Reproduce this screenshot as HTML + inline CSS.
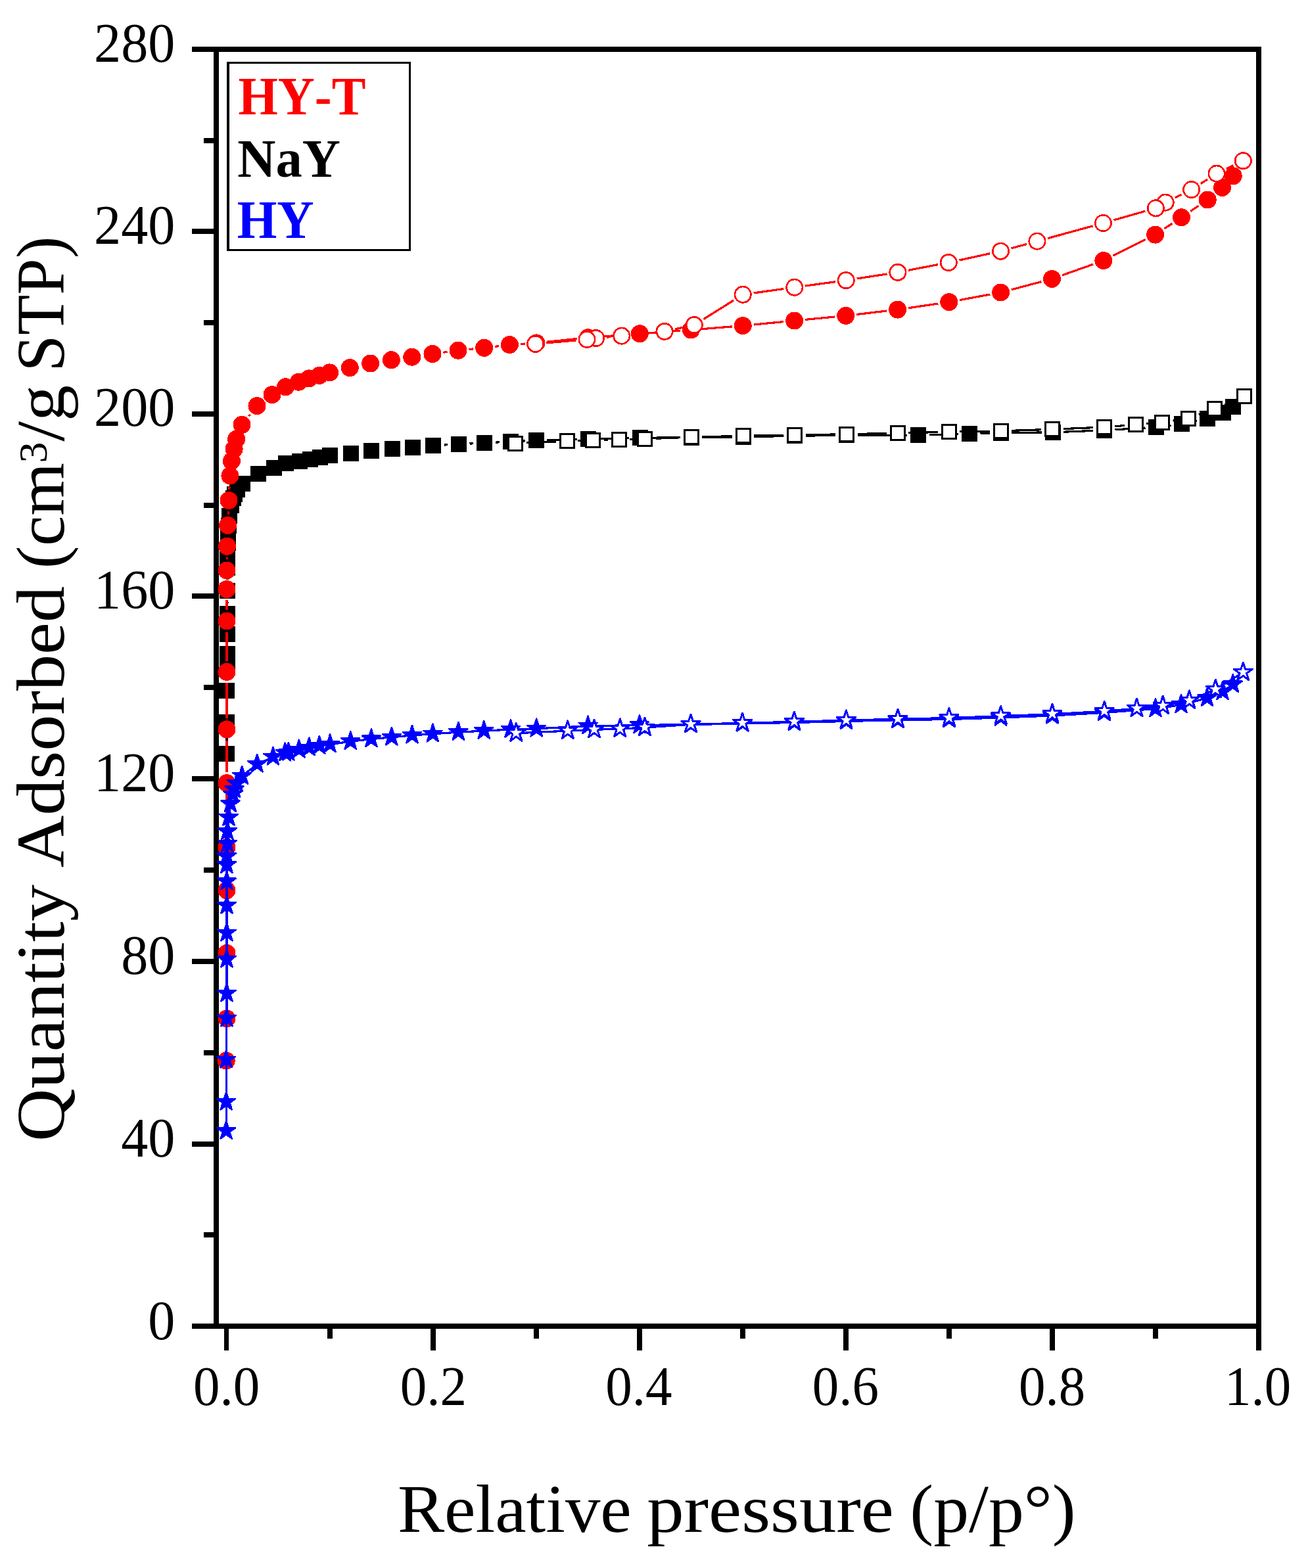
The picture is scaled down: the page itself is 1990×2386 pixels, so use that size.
<!DOCTYPE html>
<html lang="en"><head><meta charset="utf-8"><title>N2 adsorption-desorption isotherms</title>
<style>
html,body{margin:0;padding:0;background:#fff}
body{width:1990px;height:2386px;overflow:hidden;font-family:"Liberation Serif",serif}
svg{display:block}
</style></head><body>
<svg width="1990" height="2386" viewBox="0 0 1990 2386" role="img" aria-label="N2 adsorption-desorption isotherms"><rect width="1990" height="2386" fill="#fff"/><g fill="#000" shape-rendering="crispEdges"><rect x="325.0" y="71.0" width="1594.0" height="8"/><rect x="325.0" y="2014.0" width="1594.0" height="8"/><rect x="325.0" y="71.0" width="8" height="1951.0"/><rect x="1911.0" y="71.0" width="8" height="1951.0"/><rect x="292" y="2014" width="34" height="8"/><rect x="310" y="1875" width="16" height="8"/><rect x="292" y="1737" width="34" height="8"/><rect x="310" y="1598" width="16" height="8"/><rect x="292" y="1459" width="34" height="8"/><rect x="310" y="1320" width="16" height="8"/><rect x="292" y="1181" width="34" height="8"/><rect x="310" y="1042" width="16" height="8"/><rect x="292" y="903" width="34" height="8"/><rect x="310" y="765" width="16" height="8"/><rect x="292" y="626" width="34" height="8"/><rect x="310" y="487" width="16" height="8"/><rect x="292" y="348" width="34" height="8"/><rect x="310" y="210" width="16" height="8"/><rect x="292" y="71" width="34" height="8"/><rect x="341.00" y="2021" width="7" height="34"/><rect x="498.00" y="2021" width="8" height="16"/><rect x="655.00" y="2021" width="8" height="34"/><rect x="812.00" y="2021" width="8" height="16"/><rect x="969.00" y="2021" width="8" height="34"/><rect x="1126.00" y="2021" width="8" height="16"/><rect x="1283.00" y="2021" width="8" height="34"/><rect x="1440.00" y="2021" width="8" height="16"/><rect x="1597.00" y="2021" width="8" height="34"/><rect x="1754.00" y="2021" width="8" height="16"/><rect x="1911.00" y="2021" width="8" height="34"/></g><g id="series" shape-rendering="crispEdges"><path d="M344.9 1130.4L344.9 1115.7M344.9 1082.5L344.9 1067.5M345.4 1034.3L345.4 1031.5M345.9 917.5L345.9 915.6M345.9 882.4L345.9 880.3M675.6 677.0L681.3 676.8M714.5 675.1L720.4 674.8M753.6 673.2L760.0 672.8M793.2 671.2L799.2 670.8M832.4 669.6L878.1 668.4M911.3 667.6L957.3 666.7M990.5 666.2L1035.2 665.7M1068.4 665.4L1113.9 665.0M1147.1 664.5L1192.4 663.6M1225.6 663.1L1271.4 662.5M1304.6 662.3L1380.4 662.1M1413.6 661.7L1458.3 660.7M1491.5 659.8L1506.3 659.3M1539.5 658.6L1585.2 658.0M1618.4 657.2L1663.3 655.4M1696.5 653.8L1742.5 651.0M1775.6 647.9L1781.5 647.1M1814.3 641.7L1820.7 640.3" stroke="#000" stroke-width="3.2" fill="none" stroke-linecap="butt"/><g fill="#000"><rect x="332.9" y="1135.0" width="24" height="24"/><rect x="332.9" y="1087.1" width="24" height="24"/><rect x="332.9" y="1038.9" width="24" height="24"/><rect x="333.9" y="1002.9" width="24" height="24"/><rect x="333.9" y="983.1" width="24" height="24"/><rect x="333.9" y="952.9" width="24" height="24"/><rect x="333.9" y="922.1" width="24" height="24"/><rect x="333.9" y="887.0" width="24" height="24"/><rect x="333.9" y="851.7" width="24" height="24"/><rect x="333.9" y="839.0" width="24" height="24"/><rect x="334.0" y="827.0" width="24" height="24"/><rect x="334.9" y="814.0" width="24" height="24"/><rect x="334.9" y="801.7" width="24" height="24"/><rect x="336.0" y="787.8" width="24" height="24"/><rect x="336.9" y="772.6" width="24" height="24"/><rect x="340.0" y="756.9" width="24" height="24"/><rect x="342.9" y="745.8" width="24" height="24"/><rect x="344.9" y="739.8" width="24" height="24"/><rect x="348.9" y="732.8" width="24" height="24"/><rect x="356.9" y="723.7" width="24" height="24"/><rect x="380.9" y="708.8" width="24" height="24"/><rect x="405.0" y="699.9" width="24" height="24"/><rect x="423.0" y="693.0" width="24" height="24"/><rect x="443.9" y="689.6" width="24" height="24"/><rect x="460.0" y="686.7" width="24" height="24"/><rect x="475.1" y="683.7" width="24" height="24"/><rect x="490.2" y="681.4" width="24" height="24"/><rect x="521.7" y="677.9" width="24" height="24"/><rect x="553.0" y="674.0" width="24" height="24"/><rect x="584.9" y="670.9" width="24" height="24"/><rect x="616.1" y="668.9" width="24" height="24"/><rect x="647.0" y="665.9" width="24" height="24"/><rect x="685.9" y="663.9" width="24" height="24"/><rect x="725.0" y="662.0" width="24" height="24"/><rect x="764.6" y="660.0" width="24" height="24"/><rect x="803.8" y="658.0" width="24" height="24"/><rect x="882.7" y="656.0" width="24" height="24"/><rect x="961.9" y="654.3" width="24" height="24"/><rect x="1039.8" y="653.6" width="24" height="24"/><rect x="1118.5" y="652.8" width="24" height="24"/><rect x="1197.0" y="651.3" width="24" height="24"/><rect x="1276.0" y="650.3" width="24" height="24"/><rect x="1385.0" y="650.1" width="24" height="24"/><rect x="1462.9" y="648.3" width="24" height="24"/><rect x="1510.9" y="646.8" width="24" height="24"/><rect x="1589.8" y="645.8" width="24" height="24"/><rect x="1667.9" y="642.8" width="24" height="24"/><rect x="1747.1" y="638.0" width="24" height="24"/><rect x="1786.0" y="633.0" width="24" height="24"/><rect x="1825.0" y="625.0" width="24" height="24"/><rect x="1849.1" y="615.7" width="24" height="24"/><rect x="1864.2" y="607.4" width="24" height="24"/></g><path d="M1877.3 609.7L1863.2 615.8M1832.4 628.0L1823.9 630.9M1791.9 639.0L1784.5 640.2M1751.6 644.1L1744.4 644.8M1711.4 647.5L1696.2 648.7M1663.1 650.7L1617.6 652.6M1584.4 653.8L1539.3 655.3M1506.1 656.1L1460.1 656.8M1426.9 657.5L1382.2 658.7M1349.0 659.5L1304.6 660.4M1271.4 661.0L1225.7 661.6M1192.5 662.1L1147.1 663.0M1113.9 663.7L1068.4 664.8M1035.2 665.8L998.0 667.2M964.8 668.2L958.1 668.4M924.9 669.3L918.9 669.5M885.7 670.5L879.4 670.8M846.2 672.0L801.0 673.8" stroke="#000" stroke-width="3.2" fill="none" stroke-linecap="butt"/><g fill="#fff" stroke="#000" stroke-width="3"><rect x="1882.0" y="592.6" width="21" height="21"/><rect x="1837.5" y="611.9" width="21" height="21"/><rect x="1797.8" y="626.0" width="21" height="21"/><rect x="1757.6" y="632.2" width="21" height="21"/><rect x="1717.4" y="635.7" width="21" height="21"/><rect x="1669.2" y="639.5" width="21" height="21"/><rect x="1590.5" y="642.8" width="21" height="21"/><rect x="1512.2" y="645.3" width="21" height="21"/><rect x="1433.0" y="646.6" width="21" height="21"/><rect x="1355.1" y="648.6" width="21" height="21"/><rect x="1277.5" y="650.3" width="21" height="21"/><rect x="1198.6" y="651.3" width="21" height="21"/><rect x="1120.0" y="652.8" width="21" height="21"/><rect x="1041.3" y="654.7" width="21" height="21"/><rect x="970.9" y="657.3" width="21" height="21"/><rect x="931.0" y="658.3" width="21" height="21"/><rect x="891.8" y="659.5" width="21" height="21"/><rect x="852.3" y="660.8" width="21" height="21"/><rect x="773.9" y="664.0" width="21" height="21"/></g><path d="M344.4 1597.4L344.8 1566.5M345.0 1533.3L345.0 1467.1M345.0 1433.9L345.0 1371.5M345.0 1338.3L345.0 1306.1M345.0 1272.9L345.0 1208.3M345.0 1175.1L345.0 1126.5M345.0 1093.3L345.0 1039.1M345.0 1005.9L345.0 961.6M345.0 928.4L345.0 913.2M345.2 851.4L345.3 847.8M347.2 782.8L347.3 778.0M348.8 744.8L349.1 740.6M378.4 633.3L380.6 630.6M674.4 536.3L680.6 535.4M713.5 531.6L720.2 530.9M753.2 527.3L758.9 526.6M792.0 523.5L799.4 523.0M832.5 520.2L878.0 515.5M911.1 512.5L956.6 509.1M989.8 506.6L1034.7 503.2M1067.8 500.7L1113.7 496.9M1146.7 494.0L1192.1 489.6M1225.1 486.4L1270.2 482.0M1303.2 478.5L1349.1 473.0M1382.0 468.7L1427.4 462.0M1460.1 456.6L1506.3 448.0M1538.6 440.8L1584.5 428.6M1616.1 418.8L1663.3 402.1M1693.7 389.1L1742.8 364.5M1771.4 347.9L1783.7 339.9M1811.3 321.4L1823.4 313.3" stroke="#f00" stroke-width="3.2" fill="none" stroke-linecap="butt"/><g fill="#f00"><circle cx="344.2" cy="1614.0" r="13.5"/><circle cx="345.0" cy="1549.9" r="13.5"/><circle cx="345.0" cy="1450.5" r="13.5"/><circle cx="345.0" cy="1354.9" r="13.5"/><circle cx="345.0" cy="1289.5" r="13.5"/><circle cx="345.0" cy="1191.7" r="13.5"/><circle cx="345.0" cy="1109.9" r="13.5"/><circle cx="345.0" cy="1022.5" r="13.5"/><circle cx="345.0" cy="945.0" r="13.5"/><circle cx="345.0" cy="896.6" r="13.5"/><circle cx="345.0" cy="868.0" r="13.5"/><circle cx="345.5" cy="831.2" r="13.5"/><circle cx="346.5" cy="799.4" r="13.5"/><circle cx="348.0" cy="761.4" r="13.5"/><circle cx="349.9" cy="724.0" r="13.5"/><circle cx="352.4" cy="701.6" r="13.5"/><circle cx="356.1" cy="683.3" r="13.5"/><circle cx="359.6" cy="668.3" r="13.5"/><circle cx="368.0" cy="646.3" r="13.5"/><circle cx="391.0" cy="617.6" r="13.5"/><circle cx="414.0" cy="600.7" r="13.5"/><circle cx="434.5" cy="588.7" r="13.5"/><circle cx="454.4" cy="581.2" r="13.5"/><circle cx="470.1" cy="575.9" r="13.5"/><circle cx="485.8" cy="571.3" r="13.5"/><circle cx="501.6" cy="566.9" r="13.5"/><circle cx="532.3" cy="559.6" r="13.5"/><circle cx="563.7" cy="553.0" r="13.5"/><circle cx="595.4" cy="547.7" r="13.5"/><circle cx="626.8" cy="543.2" r="13.5"/><circle cx="658.0" cy="538.5" r="13.5"/><circle cx="697.0" cy="533.2" r="13.5"/><circle cx="736.7" cy="529.3" r="13.5"/><circle cx="775.4" cy="524.6" r="13.5"/><circle cx="816.0" cy="521.9" r="13.5"/><circle cx="894.5" cy="513.8" r="13.5"/><circle cx="973.2" cy="507.8" r="13.5"/><circle cx="1051.3" cy="502.0" r="13.5"/><circle cx="1130.2" cy="495.6" r="13.5"/><circle cx="1208.6" cy="488.0" r="13.5"/><circle cx="1286.7" cy="480.4" r="13.5"/><circle cx="1365.6" cy="471.1" r="13.5"/><circle cx="1443.8" cy="459.6" r="13.5"/><circle cx="1522.6" cy="445.0" r="13.5"/><circle cx="1600.5" cy="424.4" r="13.5"/><circle cx="1678.9" cy="396.5" r="13.5"/><circle cx="1757.6" cy="357.1" r="13.5"/><circle cx="1797.5" cy="330.7" r="13.5"/><circle cx="1837.2" cy="304.0" r="13.5"/><circle cx="1859.6" cy="285.4" r="13.5"/><circle cx="1876.2" cy="267.8" r="13.5"/></g><path d="M1876.3 251.9L1866.0 256.9M1837.0 273.0L1826.6 279.6M1797.7 295.9L1788.1 300.7M1742.3 321.3L1694.4 335.0M1662.4 343.9L1593.9 362.7M1561.9 371.5L1538.5 377.8M1506.3 385.7L1459.5 396.0M1427.0 402.6L1382.2 411.2M1349.5 416.9L1303.6 424.0M1270.7 428.8L1225.3 435.0M1192.4 439.5L1146.6 445.9M1116.1 457.0L1070.4 485.7M1040.1 498.0L1027.3 500.8M994.6 506.0L962.3 509.4M929.3 512.6L923.1 513.1M876.5 517.9L831.1 521.9" stroke="#f00" stroke-width="3.2" fill="none" stroke-linecap="butt"/><g fill="#fff" stroke="#f00" stroke-width="2.7"><circle cx="1891.3" cy="244.7" r="12.15"/><circle cx="1851.0" cy="264.1" r="12.15"/><circle cx="1812.6" cy="288.5" r="12.15"/><circle cx="1773.2" cy="308.1" r="12.15"/><circle cx="1758.3" cy="316.8" r="12.15"/><circle cx="1678.4" cy="339.5" r="12.15"/><circle cx="1577.9" cy="367.1" r="12.15"/><circle cx="1522.5" cy="382.2" r="12.15"/><circle cx="1443.3" cy="399.5" r="12.15"/><circle cx="1365.9" cy="414.3" r="12.15"/><circle cx="1287.2" cy="426.6" r="12.15"/><circle cx="1208.8" cy="437.2" r="12.15"/><circle cx="1130.2" cy="448.2" r="12.15"/><circle cx="1056.3" cy="494.5" r="12.15"/><circle cx="1011.1" cy="504.3" r="12.15"/><circle cx="945.8" cy="511.1" r="12.15"/><circle cx="906.6" cy="514.6" r="12.15"/><circle cx="893.0" cy="516.4" r="12.15"/><circle cx="814.6" cy="523.4" r="12.15"/></g><path d="M344.2 1721.1L344.2 1676.9M344.2 1676.9L344.2 1612.7M344.2 1612.7L345.0 1549.8M345.0 1549.8L345.0 1511.8M345.0 1511.8L345.0 1459.8M345.0 1459.8L345.0 1419.8M345.0 1419.8L345.0 1378.1M345.0 1378.1L345.0 1341.5M345.0 1341.5L345.0 1316.3M345.0 1316.3L345.0 1303.4M345.0 1303.4L345.9 1284.1M345.9 1284.1L345.9 1265.3M345.9 1265.3L348.0 1244.1M348.0 1244.1L350.5 1223.4M350.5 1223.4L353.9 1208.9M353.9 1208.9L356.6 1201.5M356.6 1201.5L360.2 1192.3M360.2 1192.3L368.3 1181.0M368.3 1181.0L391.2 1163.0M391.2 1163.0L415.4 1151.9M415.4 1151.9L433.7 1145.8M433.7 1145.8L438.9 1145.0M438.9 1145.0L454.9 1140.8M454.9 1140.8L470.3 1137.8M470.3 1137.8L485.9 1135.0M485.9 1135.0L502.1 1132.7M502.1 1132.7L533.3 1128.2M533.3 1128.2L564.9 1124.6M564.9 1124.6L595.8 1121.9M595.8 1121.9L627.0 1118.9M627.0 1118.9L658.4 1116.8M658.4 1116.8L697.4 1114.1M697.4 1114.1L736.3 1112.1M736.3 1112.1L777.0 1110.1M777.0 1110.1L816.2 1108.8M816.2 1108.8L894.6 1104.8M894.6 1104.8L973.0 1103.5M973.0 1103.5L1051.5 1102.5M1051.5 1102.5L1130.0 1101.0M1130.0 1101.0L1208.5 1099.5M1208.5 1099.5L1287.5 1097.5M1287.5 1097.5L1366.0 1095.7M1366.0 1095.7L1444.0 1094.5M1444.0 1094.5L1522.6 1092.0M1522.6 1092.0L1601.0 1089.0M1601.0 1089.0L1679.8 1084.4M1679.8 1084.4L1758.0 1078.6M1758.0 1078.6L1797.0 1072.5M1797.0 1072.5L1836.5 1062.5M1836.5 1062.5L1860.0 1052.4M1860.0 1052.4L1875.7 1041.5" stroke="#00f" stroke-width="3.2" fill="none" stroke-linecap="butt"/><g fill="#00f" stroke="#00f" stroke-width="2.5" stroke-linejoin="round"><polygon points="344.2,1706.0 347.5,1716.2 358.2,1716.2 349.5,1722.4 352.8,1732.6 344.2,1726.3 335.6,1732.6 338.9,1722.4 330.2,1716.2 340.9,1716.2"/><polygon points="344.2,1661.8 347.5,1672.0 358.2,1672.0 349.5,1678.2 352.8,1688.4 344.2,1682.1 335.6,1688.4 338.9,1678.2 330.2,1672.0 340.9,1672.0"/><polygon points="344.2,1597.6 347.5,1607.8 358.2,1607.8 349.5,1614.0 352.8,1624.2 344.2,1617.9 335.6,1624.2 338.9,1614.0 330.2,1607.8 340.9,1607.8"/><polygon points="345.0,1534.7 348.3,1544.9 359.0,1544.9 350.3,1551.1 353.6,1561.3 345.0,1555.0 336.4,1561.3 339.7,1551.1 331.0,1544.9 341.7,1544.9"/><polygon points="345.0,1496.7 348.3,1506.9 359.0,1506.9 350.3,1513.1 353.6,1523.3 345.0,1517.0 336.4,1523.3 339.7,1513.1 331.0,1506.9 341.7,1506.9"/><polygon points="345.0,1444.7 348.3,1454.9 359.0,1454.9 350.3,1461.1 353.6,1471.3 345.0,1465.0 336.4,1471.3 339.7,1461.1 331.0,1454.9 341.7,1454.9"/><polygon points="345.0,1404.7 348.3,1414.9 359.0,1414.9 350.3,1421.1 353.6,1431.3 345.0,1425.0 336.4,1431.3 339.7,1421.1 331.0,1414.9 341.7,1414.9"/><polygon points="345.0,1363.0 348.3,1373.2 359.0,1373.2 350.3,1379.4 353.6,1389.6 345.0,1383.3 336.4,1389.6 339.7,1379.4 331.0,1373.2 341.7,1373.2"/><polygon points="345.0,1326.4 348.3,1336.6 359.0,1336.6 350.3,1342.8 353.6,1353.0 345.0,1346.7 336.4,1353.0 339.7,1342.8 331.0,1336.6 341.7,1336.6"/><polygon points="345.0,1301.2 348.3,1311.4 359.0,1311.4 350.3,1317.6 353.6,1327.8 345.0,1321.5 336.4,1327.8 339.7,1317.6 331.0,1311.4 341.7,1311.4"/><polygon points="345.0,1288.3 348.3,1298.5 359.0,1298.5 350.3,1304.7 353.6,1314.9 345.0,1308.6 336.4,1314.9 339.7,1304.7 331.0,1298.5 341.7,1298.5"/><polygon points="345.9,1269.0 349.2,1279.2 359.9,1279.2 351.2,1285.4 354.5,1295.6 345.9,1289.3 337.3,1295.6 340.6,1285.4 331.9,1279.2 342.6,1279.2"/><polygon points="345.9,1250.2 349.2,1260.4 359.9,1260.4 351.2,1266.6 354.5,1276.8 345.9,1270.5 337.3,1276.8 340.6,1266.6 331.9,1260.4 342.6,1260.4"/><polygon points="348.0,1229.0 351.3,1239.2 362.0,1239.2 353.3,1245.4 356.6,1255.6 348.0,1249.3 339.4,1255.6 342.7,1245.4 334.0,1239.2 344.7,1239.2"/><polygon points="350.5,1208.3 353.8,1218.5 364.5,1218.5 355.8,1224.7 359.1,1234.9 350.5,1228.6 341.9,1234.9 345.2,1224.7 336.5,1218.5 347.2,1218.5"/><polygon points="353.9,1193.8 357.2,1204.0 367.9,1204.0 359.2,1210.2 362.5,1220.4 353.9,1214.1 345.3,1220.4 348.6,1210.2 339.9,1204.0 350.6,1204.0"/><polygon points="356.6,1186.4 359.9,1196.6 370.6,1196.6 361.9,1202.8 365.2,1213.0 356.6,1206.7 348.0,1213.0 351.3,1202.8 342.6,1196.6 353.3,1196.6"/><polygon points="360.2,1177.2 363.5,1187.4 374.2,1187.4 365.5,1193.6 368.8,1203.8 360.2,1197.5 351.6,1203.8 354.9,1193.6 346.2,1187.4 356.9,1187.4"/><polygon points="368.3,1165.9 371.6,1176.1 382.3,1176.1 373.6,1182.3 376.9,1192.5 368.3,1186.2 359.7,1192.5 363.0,1182.3 354.3,1176.1 365.0,1176.1"/><polygon points="391.2,1147.9 394.5,1158.1 405.2,1158.1 396.5,1164.3 399.8,1174.5 391.2,1168.2 382.6,1174.5 385.9,1164.3 377.2,1158.1 387.9,1158.1"/><polygon points="415.4,1136.8 418.7,1147.0 429.4,1147.0 420.7,1153.2 424.0,1163.4 415.4,1157.1 406.8,1163.4 410.1,1153.2 401.4,1147.0 412.1,1147.0"/><polygon points="433.7,1130.7 437.0,1140.9 447.7,1140.9 439.0,1147.1 442.3,1157.3 433.7,1151.0 425.1,1157.3 428.4,1147.1 419.7,1140.9 430.4,1140.9"/><polygon points="438.9,1129.9 442.2,1140.1 452.9,1140.1 444.2,1146.3 447.5,1156.5 438.9,1150.2 430.3,1156.5 433.6,1146.3 424.9,1140.1 435.6,1140.1"/><polygon points="454.9,1125.7 458.2,1135.9 468.9,1135.9 460.2,1142.1 463.5,1152.3 454.9,1146.0 446.3,1152.3 449.6,1142.1 440.9,1135.9 451.6,1135.9"/><polygon points="470.3,1122.7 473.6,1132.9 484.3,1132.9 475.6,1139.1 478.9,1149.3 470.3,1143.0 461.7,1149.3 465.0,1139.1 456.3,1132.9 467.0,1132.9"/><polygon points="485.9,1119.9 489.2,1130.1 499.9,1130.1 491.2,1136.3 494.5,1146.5 485.9,1140.2 477.3,1146.5 480.6,1136.3 471.9,1130.1 482.6,1130.1"/><polygon points="502.1,1117.6 505.4,1127.8 516.1,1127.8 507.4,1134.0 510.7,1144.2 502.1,1137.9 493.5,1144.2 496.8,1134.0 488.1,1127.8 498.8,1127.8"/><polygon points="533.3,1113.1 536.6,1123.3 547.3,1123.3 538.6,1129.5 541.9,1139.7 533.3,1133.4 524.7,1139.7 528.0,1129.5 519.3,1123.3 530.0,1123.3"/><polygon points="564.9,1109.5 568.2,1119.7 578.9,1119.7 570.2,1125.9 573.5,1136.1 564.9,1129.8 556.3,1136.1 559.6,1125.9 550.9,1119.7 561.6,1119.7"/><polygon points="595.8,1106.8 599.1,1117.0 609.8,1117.0 601.1,1123.2 604.4,1133.4 595.8,1127.1 587.2,1133.4 590.5,1123.2 581.8,1117.0 592.5,1117.0"/><polygon points="627.0,1103.8 630.3,1114.0 641.0,1114.0 632.3,1120.2 635.6,1130.4 627.0,1124.1 618.4,1130.4 621.7,1120.2 613.0,1114.0 623.7,1114.0"/><polygon points="658.4,1101.7 661.7,1111.9 672.4,1111.9 663.7,1118.1 667.0,1128.3 658.4,1122.0 649.8,1128.3 653.1,1118.1 644.4,1111.9 655.1,1111.9"/><polygon points="697.4,1099.0 700.7,1109.2 711.4,1109.2 702.7,1115.4 706.0,1125.6 697.4,1119.3 688.8,1125.6 692.1,1115.4 683.4,1109.2 694.1,1109.2"/><polygon points="736.3,1097.0 739.6,1107.2 750.3,1107.2 741.6,1113.4 744.9,1123.6 736.3,1117.3 727.7,1123.6 731.0,1113.4 722.3,1107.2 733.0,1107.2"/><polygon points="777.0,1095.0 780.3,1105.2 791.0,1105.2 782.3,1111.4 785.6,1121.6 777.0,1115.3 768.4,1121.6 771.7,1111.4 763.0,1105.2 773.7,1105.2"/><polygon points="816.2,1093.7 819.5,1103.9 830.2,1103.9 821.5,1110.1 824.8,1120.3 816.2,1114.0 807.6,1120.3 810.9,1110.1 802.2,1103.9 812.9,1103.9"/><polygon points="894.6,1089.7 897.9,1099.9 908.6,1099.9 899.9,1106.1 903.2,1116.3 894.6,1110.0 886.0,1116.3 889.3,1106.1 880.6,1099.9 891.3,1099.9"/><polygon points="973.0,1088.4 976.3,1098.6 987.0,1098.6 978.3,1104.8 981.6,1115.0 973.0,1108.7 964.4,1115.0 967.7,1104.8 959.0,1098.6 969.7,1098.6"/><polygon points="1051.5,1087.4 1054.8,1097.6 1065.5,1097.6 1056.8,1103.8 1060.1,1114.0 1051.5,1107.7 1042.9,1114.0 1046.2,1103.8 1037.5,1097.6 1048.2,1097.6"/><polygon points="1130.0,1085.9 1133.3,1096.1 1144.0,1096.1 1135.3,1102.3 1138.6,1112.5 1130.0,1106.2 1121.4,1112.5 1124.7,1102.3 1116.0,1096.1 1126.7,1096.1"/><polygon points="1208.5,1084.4 1211.8,1094.6 1222.5,1094.6 1213.8,1100.8 1217.1,1111.0 1208.5,1104.7 1199.9,1111.0 1203.2,1100.8 1194.5,1094.6 1205.2,1094.6"/><polygon points="1287.5,1082.4 1290.8,1092.6 1301.5,1092.6 1292.8,1098.8 1296.1,1109.0 1287.5,1102.7 1278.9,1109.0 1282.2,1098.8 1273.5,1092.6 1284.2,1092.6"/><polygon points="1366.0,1080.6 1369.3,1090.8 1380.0,1090.8 1371.3,1097.0 1374.6,1107.2 1366.0,1100.9 1357.4,1107.2 1360.7,1097.0 1352.0,1090.8 1362.7,1090.8"/><polygon points="1444.0,1079.4 1447.3,1089.6 1458.0,1089.6 1449.3,1095.8 1452.6,1106.0 1444.0,1099.7 1435.4,1106.0 1438.7,1095.8 1430.0,1089.6 1440.7,1089.6"/><polygon points="1522.6,1076.9 1525.9,1087.1 1536.6,1087.1 1527.9,1093.3 1531.2,1103.5 1522.6,1097.2 1514.0,1103.5 1517.3,1093.3 1508.6,1087.1 1519.3,1087.1"/><polygon points="1601.0,1073.9 1604.3,1084.1 1615.0,1084.1 1606.3,1090.3 1609.6,1100.5 1601.0,1094.2 1592.4,1100.5 1595.7,1090.3 1587.0,1084.1 1597.7,1084.1"/><polygon points="1679.8,1069.3 1683.1,1079.5 1693.8,1079.5 1685.1,1085.7 1688.4,1095.9 1679.8,1089.6 1671.2,1095.9 1674.5,1085.7 1665.8,1079.5 1676.5,1079.5"/><polygon points="1758.0,1063.5 1761.3,1073.7 1772.0,1073.7 1763.3,1079.9 1766.6,1090.1 1758.0,1083.8 1749.4,1090.1 1752.7,1079.9 1744.0,1073.7 1754.7,1073.7"/><polygon points="1797.0,1057.4 1800.3,1067.6 1811.0,1067.6 1802.3,1073.8 1805.6,1084.0 1797.0,1077.7 1788.4,1084.0 1791.7,1073.8 1783.0,1067.6 1793.7,1067.6"/><polygon points="1836.5,1047.4 1839.8,1057.6 1850.5,1057.6 1841.8,1063.8 1845.1,1074.0 1836.5,1067.7 1827.9,1074.0 1831.2,1063.8 1822.5,1057.6 1833.2,1057.6"/><polygon points="1860.0,1037.3 1863.3,1047.5 1874.0,1047.5 1865.3,1053.7 1868.6,1063.9 1860.0,1057.6 1851.4,1063.9 1854.7,1053.7 1846.0,1047.5 1856.7,1047.5"/><polygon points="1875.7,1026.4 1879.0,1036.6 1889.7,1036.6 1881.0,1042.8 1884.3,1053.0 1875.7,1046.7 1867.1,1053.0 1870.4,1042.8 1861.7,1036.6 1872.4,1036.6"/></g><path d="M1891.3 1023.2L1849.3 1049.3M1849.3 1049.3L1809.4 1066.1M1809.4 1066.1L1769.2 1074.2M1769.2 1074.2L1729.5 1078.2M1729.5 1078.2L1680.2 1082.3M1680.2 1082.3L1601.0 1086.7M1601.0 1086.7L1522.6 1089.7M1522.6 1089.7L1443.9 1092.5M1443.9 1092.5L1366.0 1094.2M1366.0 1094.2L1287.4 1096.1M1287.4 1096.1L1208.4 1098.3M1208.4 1098.3L1129.5 1100.3M1129.5 1100.3L1050.9 1102.3M1050.9 1102.3L981.0 1107.1M981.0 1107.1L943.3 1109.1M943.3 1109.1L904.0 1110.3M904.0 1110.3L863.7 1112.1M863.7 1112.1L785.3 1115.8" stroke="#00f" stroke-width="3.2" fill="none" stroke-linecap="butt"/><g fill="#fff" stroke="#00f" stroke-width="3" stroke-linejoin="round"><polygon points="1891.3,1008.1 1894.6,1018.3 1905.3,1018.3 1896.6,1024.5 1899.9,1034.7 1891.3,1028.4 1882.7,1034.7 1886.0,1024.5 1877.3,1018.3 1888.0,1018.3"/><polygon points="1849.3,1034.2 1852.6,1044.4 1863.3,1044.4 1854.6,1050.6 1857.9,1060.8 1849.3,1054.5 1840.7,1060.8 1844.0,1050.6 1835.3,1044.4 1846.0,1044.4"/><polygon points="1809.4,1051.0 1812.7,1061.2 1823.4,1061.2 1814.7,1067.4 1818.0,1077.6 1809.4,1071.3 1800.8,1077.6 1804.1,1067.4 1795.4,1061.2 1806.1,1061.2"/><polygon points="1769.2,1059.1 1772.5,1069.3 1783.2,1069.3 1774.5,1075.5 1777.8,1085.7 1769.2,1079.4 1760.6,1085.7 1763.9,1075.5 1755.2,1069.3 1765.9,1069.3"/><polygon points="1729.5,1063.1 1732.8,1073.3 1743.5,1073.3 1734.8,1079.5 1738.1,1089.7 1729.5,1083.4 1720.9,1089.7 1724.2,1079.5 1715.5,1073.3 1726.2,1073.3"/><polygon points="1680.2,1067.2 1683.5,1077.4 1694.2,1077.4 1685.5,1083.6 1688.8,1093.8 1680.2,1087.5 1671.6,1093.8 1674.9,1083.6 1666.2,1077.4 1676.9,1077.4"/><polygon points="1601.0,1071.6 1604.3,1081.8 1615.0,1081.8 1606.3,1088.0 1609.6,1098.2 1601.0,1091.9 1592.4,1098.2 1595.7,1088.0 1587.0,1081.8 1597.7,1081.8"/><polygon points="1522.6,1074.6 1525.9,1084.8 1536.6,1084.8 1527.9,1091.0 1531.2,1101.2 1522.6,1094.9 1514.0,1101.2 1517.3,1091.0 1508.6,1084.8 1519.3,1084.8"/><polygon points="1443.9,1077.4 1447.2,1087.6 1457.9,1087.6 1449.2,1093.8 1452.5,1104.0 1443.9,1097.7 1435.3,1104.0 1438.6,1093.8 1429.9,1087.6 1440.6,1087.6"/><polygon points="1366.0,1079.1 1369.3,1089.3 1380.0,1089.3 1371.3,1095.5 1374.6,1105.7 1366.0,1099.4 1357.4,1105.7 1360.7,1095.5 1352.0,1089.3 1362.7,1089.3"/><polygon points="1287.4,1081.0 1290.7,1091.2 1301.4,1091.2 1292.7,1097.4 1296.0,1107.6 1287.4,1101.3 1278.8,1107.6 1282.1,1097.4 1273.4,1091.2 1284.1,1091.2"/><polygon points="1208.4,1083.2 1211.7,1093.4 1222.4,1093.4 1213.7,1099.6 1217.0,1109.8 1208.4,1103.5 1199.8,1109.8 1203.1,1099.6 1194.4,1093.4 1205.1,1093.4"/><polygon points="1129.5,1085.2 1132.8,1095.4 1143.5,1095.4 1134.8,1101.6 1138.1,1111.8 1129.5,1105.5 1120.9,1111.8 1124.2,1101.6 1115.5,1095.4 1126.2,1095.4"/><polygon points="1050.9,1087.2 1054.2,1097.4 1064.9,1097.4 1056.2,1103.6 1059.5,1113.8 1050.9,1107.5 1042.3,1113.8 1045.6,1103.6 1036.9,1097.4 1047.6,1097.4"/><polygon points="981.0,1092.0 984.3,1102.2 995.0,1102.2 986.3,1108.4 989.6,1118.6 981.0,1112.3 972.4,1118.6 975.7,1108.4 967.0,1102.2 977.7,1102.2"/><polygon points="943.3,1094.0 946.6,1104.2 957.3,1104.2 948.6,1110.4 951.9,1120.6 943.3,1114.3 934.7,1120.6 938.0,1110.4 929.3,1104.2 940.0,1104.2"/><polygon points="904.0,1095.2 907.3,1105.4 918.0,1105.4 909.3,1111.6 912.6,1121.8 904.0,1115.5 895.4,1121.8 898.7,1111.6 890.0,1105.4 900.7,1105.4"/><polygon points="863.7,1097.0 867.0,1107.2 877.7,1107.2 869.0,1113.4 872.3,1123.6 863.7,1117.3 855.1,1123.6 858.4,1113.4 849.7,1107.2 860.4,1107.2"/><polygon points="785.3,1100.7 788.6,1110.9 799.3,1110.9 790.6,1117.1 793.9,1127.3 785.3,1121.0 776.7,1127.3 780.0,1117.1 771.3,1110.9 782.0,1110.9"/></g></g><g font-family="'Liberation Serif', serif" style="font-kerning:none"><text x="225.24" y="2037.95" font-size="84.3" fill="#000" textLength="41.09" lengthAdjust="spacingAndGlyphs">0</text><text x="184.16" y="1760.00" font-size="84.3" fill="#000" textLength="82.17" lengthAdjust="spacingAndGlyphs">40</text><text x="184.16" y="1481.80" font-size="84.3" fill="#000" textLength="82.17" lengthAdjust="spacingAndGlyphs">80</text><text x="143.07" y="1203.70" font-size="84.3" fill="#000" textLength="123.26" lengthAdjust="spacingAndGlyphs">120</text><text x="143.07" y="925.65" font-size="84.3" fill="#000" textLength="123.26" lengthAdjust="spacingAndGlyphs">160</text><text x="143.07" y="648.30" font-size="84.3" fill="#000" textLength="123.25" lengthAdjust="spacingAndGlyphs">200</text><text x="143.07" y="370.90" font-size="84.3" fill="#000" textLength="123.25" lengthAdjust="spacingAndGlyphs">240</text><text x="143.07" y="93.85" font-size="84.3" fill="#000" textLength="123.25" lengthAdjust="spacingAndGlyphs">280</text><text x="294.07" y="2137.90" font-size="84.3" fill="#000" textLength="101.26" lengthAdjust="spacingAndGlyphs">0.0</text><text x="608.76" y="2137.90" font-size="84.3" fill="#000" textLength="101.26" lengthAdjust="spacingAndGlyphs">0.2</text><text x="921.16" y="2137.90" font-size="84.3" fill="#000" textLength="101.26" lengthAdjust="spacingAndGlyphs">0.4</text><text x="1235.73" y="2137.90" font-size="84.3" fill="#000" textLength="101.26" lengthAdjust="spacingAndGlyphs">0.6</text><text x="1550.07" y="2137.90" font-size="84.3" fill="#000" textLength="101.26" lengthAdjust="spacingAndGlyphs">0.8</text><text x="1862.95" y="2137.90" font-size="84.3" fill="#000" textLength="101.26" lengthAdjust="spacingAndGlyphs">1.0</text></g><text id="xtitle" font-family="'Liberation Serif', serif" font-size="103" style="font-kerning:none"><tspan x="604.92" y="2331.20" font-size="103" textLength="355.78" lengthAdjust="spacingAndGlyphs">Relative</tspan> <tspan x="984.18" y="2331.20" font-size="103" textLength="375.73" lengthAdjust="spacingAndGlyphs">pressure</tspan> <tspan x="1384.27" y="2331.20" font-size="103" textLength="252.47" lengthAdjust="spacingAndGlyphs">(p/p°)</tspan></text><text id="ytitle" transform="translate(97 0) rotate(-90)" font-family="'Liberation Serif', serif" font-size="103" style="font-kerning:none"><tspan x="-1737.08" y="0.00" font-size="103" textLength="390.82" lengthAdjust="spacingAndGlyphs">Quantity</tspan> <tspan x="-1320.28" y="0.00" font-size="103" textLength="428.32" lengthAdjust="spacingAndGlyphs">Adsorbed</tspan> <tspan x="-865.36" y="0.00" font-size="103" textLength="161.18" lengthAdjust="spacingAndGlyphs">(cm</tspan><tspan x="-704.57" y="-26.10" font-size="61.5" textLength="32.08" lengthAdjust="spacingAndGlyphs">3</tspan><tspan x="-671.70" y="0.00" font-size="103" textLength="85.80" lengthAdjust="spacingAndGlyphs">/g</tspan> <tspan x="-565.39" y="0.00" font-size="103" textLength="205.58" lengthAdjust="spacingAndGlyphs">STP)</tspan></text><g id="legendbox" shape-rendering="crispEdges"><rect x="345" y="94" width="280" height="288" fill="#000"/><rect x="349" y="97" width="273" height="282" fill="#fff"/></g><g id="legend" font-family="'Liberation Serif', serif" font-weight="bold" style="font-kerning:none"><text x="362.47" y="174.10" font-size="83" fill="#f00" textLength="193.90" lengthAdjust="spacingAndGlyphs">HY-T</text><text x="361.37" y="269.10" font-size="83" fill="#000" textLength="156.57" lengthAdjust="spacingAndGlyphs">NaY</text><text x="360.67" y="362.00" font-size="83" fill="#00f" textLength="117.02" lengthAdjust="spacingAndGlyphs">HY</text></g></svg>
</body></html>
